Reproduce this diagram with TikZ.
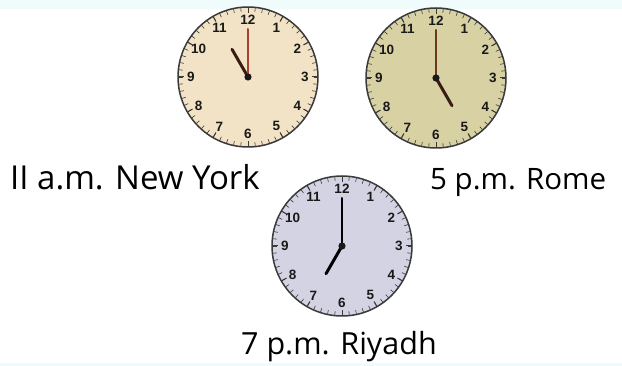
\documentclass[tikz,border=0pt]{standalone}
\usepackage{fontspec}
\setmainfont{Open Sans}
\newfontfamily\numfont{Liberation Sans}
\definecolor{topstrip}{HTML}{F0FBFC}
\definecolor{rimgray}{HTML}{3A3A3A}
\definecolor{faceA}{HTML}{F3E3C6}
\definecolor{faceB}{HTML}{D7D1A4}
\definecolor{faceC}{HTML}{D3D3E4}
\definecolor{handred}{HTML}{A8402E}
\definecolor{handdark}{HTML}{3A1C12}
\definecolor{handbrown}{HTML}{6A3A1C}
\tikzset{
  clockface/.style={circle, draw=rimgray, line width=1.5pt, minimum size=140pt, inner sep=0pt},
  numstyle/.style={font=\numfont\bfseries\fontsize{13.5}{13.5}\selectfont, text=black!90, inner sep=0pt},
  label/.style={anchor=base west, inner sep=0pt, text=black},
  minutetick/.style={rimgray, line width=0.6pt},
  hourtick/.style={rimgray, line width=1pt},
  hourhand/.style={line width=3pt, line cap=round},
  minhand/.style={line width=2pt, line cap=round},
}
\newcommand\myclock[7]{%
  \node[clockface, fill=#3] (#1) at (#2) {};
  \begin{scope}[shift={(#1.center)}]
    \foreach \i in {0,...,59} \draw[minutetick] (\i*6:69.5) -- (\i*6:65.5);
    \foreach \i in {0,...,11} \draw[hourtick] (\i*30:69.5) -- (\i*30:64);
    \foreach \h in {1,...,12} \node[numstyle] at ({90-30*\h}:57) {\h};
    \draw[hourhand, #6] (0,0) -- (#4:32);
    \draw[minhand, #7] (0,0) -- (#5:48);
    \fill[black!90] (0,0) circle (3.6);
  \end{scope}%
}
\begin{document}
\begin{tikzpicture}[x=1pt,y=1pt]
\useasboundingbox (0,0) rectangle (622,-366);
\fill[topstrip] (0,0) rectangle (622,-9);
\fill[topstrip] (0,-363) rectangle (622,-366);
\myclock{ny}{248,-77}{faceA}{120}{90}{handdark}{handred}
\myclock{rome}{436,-78}{faceB}{-60}{90}{handdark}{handbrown}
\myclock{riyadh}{342,-246}{faceC}{-120}{90}{black}{black}
\node[label, font=\fontsize{33}{36}\selectfont] (lny) at (10,-190) {II a.m. New York};
\node[label, font=\fontsize{29.5}{36}\selectfont] (lrome) at (430,-190) {5 p.m. Rome};
\node[label, font=\fontsize{30.5}{36}\selectfont] (lriy) at (241,-355) {7 p.m. Riyadh};
\end{tikzpicture}
\end{document}
